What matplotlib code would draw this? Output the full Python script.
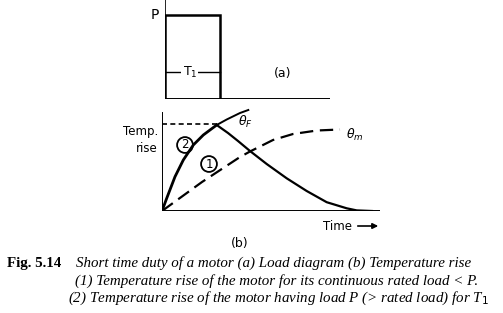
import matplotlib
matplotlib.use("Agg")
import matplotlib.pyplot as plt

# (a) load diagram: time in units of T1, load in units of P
load_t = [0, 0, 1, 1, 3]
load_p = [0, 1, 1, 0, 0]

# (b) temperature rise curves (time, temp in arbitrary units)
heat2_t = [0, 4.7, 13, 21.3, 31.3, 41.3, 54.7]
heat2_v = [0, 12.7, 34.3, 51, 66, 76, 86]
heat2_ext_t = [54.7, 64.7, 78, 86.3]
heat2_ext_v = [86, 91.5, 98, 101]
cool_t = [54.7, 66, 76, 88, 104.7, 124.7, 144.7, 164.7, 184.7, 194.7, 210]
cool_v = [86, 78, 70, 60, 47, 32.7, 20, 8.8, 2.7, 0.6, 0]
heat1_t = [0, 40, 78, 88, 111, 131, 155, 178]
heat1_v = [0, 29, 54, 59.5, 71, 77, 80.5, 81.5]

W, H = 503, 313
fig = plt.figure(figsize=(W / 100, H / 100), dpi=100)
fig.patch.set_facecolor("white")

# overlay in pixel coords for labels and caption
ax0 = fig.add_axes([0, 0, 1, 1])
ax0.set_xlim(0, W)
ax0.set_ylim(H, 0)
ax0.axis("off")

# ---- (a) ----
axa = fig.add_axes([165 / W, (H - 99) / H, 165 / W, 99 / H])
axa.set_xlim(0, 3)
axa.set_ylim(0, 99 / 84)
axa.axis("off")
axa.plot(load_t[:4], load_p[:4], color="black", lw=1.8, solid_joinstyle="miter")
axa.plot([0, 3], [0, 0], color="black", lw=1.4)
axa.plot([0, 0], [0, 99 / 84], color="black", lw=1.2)
axa.plot([0, 1], [0.32, 0.32], color="black", lw=1.0)
axa.text(0.45, 0.32, "T$_1$", ha="center", va="center", fontsize=9,
         bbox=dict(facecolor="white", edgecolor="none", pad=1))

# ---- (b) ----
axb = fig.add_axes([162 / W, (H - 211) / H, 218 / W, 105 / H])
axb.set_xlim(0, 218)
axb.set_ylim(0, 105)
axb.axis("off")
axb.plot([0, 0], [0, 98], color="black", lw=1.4)
axb.plot([0, 218], [0, 0], color="black", lw=1.4)
axb.plot(heat2_t, heat2_v, color="black", lw=2.0)
axb.plot(heat2_ext_t, heat2_ext_v, color="black", lw=1.4)
axb.plot(cool_t, cool_v, color="black", lw=1.6)
axb.plot(heat1_t, heat1_v, color="black", lw=1.6, ls=(0, (6, 3)))
axb.plot([0, heat2_t[-1]], [87, 87], color="black", lw=1.2, ls=(0, (3, 2)))

txt = dict(color="black", family="DejaVu Sans")
ax0.text(155, 15, "P", ha="center", va="center", fontsize=10, **txt)
ax0.text(283, 73, "(a)", ha="center", va="center", fontsize=9, **txt)
ax0.text(158, 131, "Temp.", ha="right", va="center", fontsize=8.5, **txt)
ax0.text(158, 149, "rise", ha="right", va="center", fontsize=8.5, **txt)
ax0.text(185, 145, "2", ha="center", va="center", fontsize=8.5,
         bbox=dict(boxstyle="circle,pad=0.12", facecolor="white", edgecolor="black", lw=1.3), **txt)
ax0.text(209, 164, "1", ha="center", va="center", fontsize=8.5,
         bbox=dict(boxstyle="circle,pad=0.12", facecolor="white", edgecolor="black", lw=1.3), **txt)
ax0.text(238, 122, r"$\theta_F$", ha="left", va="center", fontsize=9, **txt)
ax0.text(346, 135, r"$\theta_m$", ha="left", va="center", fontsize=9, **txt)
ax0.text(338, 226, "Time", ha="center", va="center", fontsize=8.5, **txt)
ax0.annotate("", xy=(381, 226), xytext=(355, 226),
             arrowprops=dict(arrowstyle="-|>", color="black", lw=1.2, mutation_scale=8))
ax0.text(240, 243, "(b)", ha="center", va="center", fontsize=9, **txt)

# ---- caption ----
cap = dict(color="black", family="Liberation Serif", fontsize=10.8, va="center")
ax0.text(7, 263.5, "Fig. 5.14", ha="left", weight="bold", **cap)
ax0.text(76, 263.5, "Short time duty of a motor (a) Load diagram (b) Temperature rise",
         ha="left", style="italic", **cap)
ax0.text(75, 281, "(1) Temperature rise of the motor for its continuous rated load < P.",
         ha="left", style="italic", **cap)
ax0.text(68, 298.5, "(2) Temperature rise of the motor having load P (> rated load) for T$_1$",
         ha="left", style="italic", **cap)

fig.savefig("out.png", dpi=100, facecolor="white")
